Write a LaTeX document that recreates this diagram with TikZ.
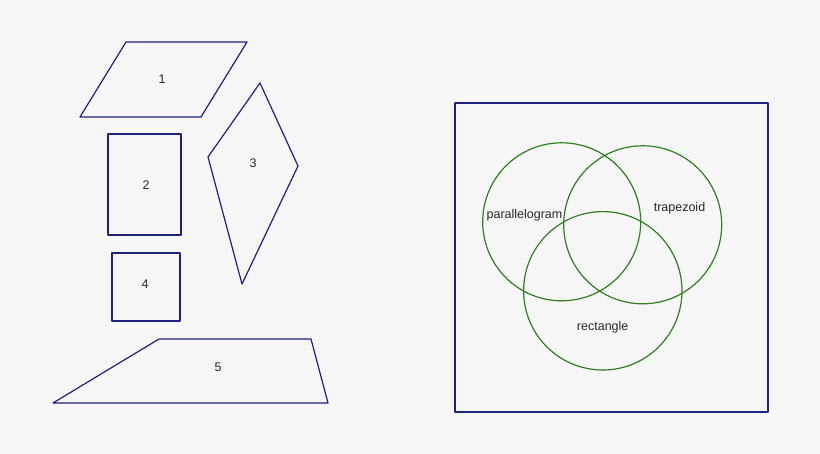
\documentclass[tikz,border=0pt]{standalone}
\usepackage{fontspec}
\setmainfont{Liberation Sans}
\definecolor{bgc}{HTML}{F6F6F6}
\definecolor{navy}{HTML}{1F1F80}
\definecolor{vgreen}{HTML}{2F7F1F}
\begin{document}
\begin{tikzpicture}[x=1pt,y=-1pt,
  outline/.style={draw=navy,line width=1.2pt,line join=round},
  venn/.style={draw=vgreen,line width=1.2pt},
  lbl/.style={font=\fontsize{12.5}{14}\selectfont,text=black!85,inner sep=0pt}]
\fill[bgc] (0,0) rectangle (820,454);
\useasboundingbox (0,0) rectangle (820,454);
% shape 1
\draw[outline] (126,42) -- (247,42) -- (201,117) -- (80,117) -- cycle;
\node[lbl] (l1) at (162,79) {1};
% shape 2
\draw[outline] (108,134) rectangle (181,235);
\node[lbl] (l2) at (146,185) {2};
% shape 3
\draw[outline] (260,83) -- (298,166) -- (242,284) -- (208,157) -- cycle;
\node[lbl] (l3) at (253,163) {3};
% shape 4
\draw[outline] (112,253) rectangle (180,321);
\node[lbl] (l4) at (145,284) {4};
% shape 5
\draw[outline] (159,339) -- (311,339) -- (328,403) -- (53,403) -- cycle;
\node[lbl] (l5) at (218,367) {5};
% venn frame
\draw[outline] (455,103) rectangle (768,412);
\draw[venn] (561.7,221.8) circle[radius=79];
\draw[venn] (642.7,224.8) circle[radius=79];
\draw[venn] (602.8,290.8) circle[radius=79.2];
\node[lbl] (par) at (524.5,215.5) {parallelogram};
\node[lbl] (tra) at (679.5,208) {trapezoid};
\node[lbl] (rec) at (602.7,327.5) {rectangle};
\end{tikzpicture}
\end{document}
